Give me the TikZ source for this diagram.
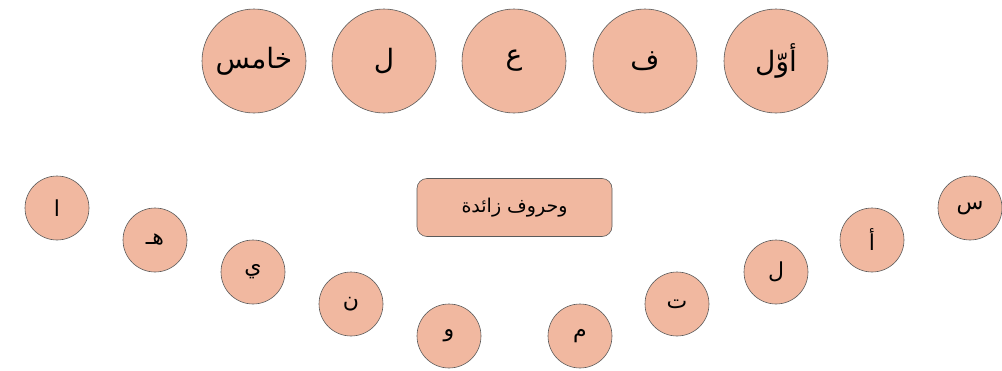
\documentclass[tikz,border=0pt]{standalone}
\usepackage{fontspec}
\TeXXeTstate=1
\newfontfamily\arabicfont[Script=Arabic]{DejaVu Sans}
\definecolor{salmon}{RGB}{241,184,160}
\definecolor{edge}{RGB}{90,90,90}
\tikzset{
  big/.style={circle,draw=edge,line width=0.6pt,fill=salmon,minimum size=104pt,inner sep=0pt,font=\arabicfont\fontsize{28}{32}\selectfont},
  small/.style={circle,draw=edge,line width=0.6pt,fill=salmon,minimum size=64pt,inner sep=0pt,font=\arabicfont\fontsize{22}{26}\selectfont},
  box/.style={rectangle,rounded corners=10pt,draw=edge,line width=0.6pt,fill=salmon,minimum width=195pt,minimum height=58pt,inner sep=0pt,font=\arabicfont\fontsize{19}{22}\selectfont}
}
\begin{document}
\begin{tikzpicture}[x=1pt,y=-1pt]
\useasboundingbox (0,0) rectangle (1002,370);
\node[big] (t1) at (254,61) {\beginR خامس\endR};
\node[big] (t2) at (384,61) {\beginR ل\endR};
\node[big] (t3) at (514,61) {\beginR ع\endR};
\node[big] (t4) at (645,61) {\beginR ف\endR};
\node[big] (t5) at (776,61) {\beginR أوّل\endR};
\node[box] (bx) at (514.5,207.5) {\beginR وحروف زائدة\endR};
\node[small] (a1) at (57,208) {\beginR ا\endR};
\node[small] (a2) at (155,240) {\beginR هـ\endR};
\node[small] (a3) at (253,272) {\beginR ي\endR};
\node[small] (a4) at (351,304) {\beginR ن\endR};
\node[small] (a5) at (449,336) {\beginR و\endR};
\node[small] (b1) at (580,336) {\beginR م\endR};
\node[small] (b2) at (677,304) {\beginR ت\endR};
\node[small] (b3) at (776,272) {\beginR ل\endR};
\node[small] (b4) at (872,240) {\beginR أ\endR};
\node[small] (b5) at (970,208) {\beginR س\endR};
\end{tikzpicture}
\end{document}
